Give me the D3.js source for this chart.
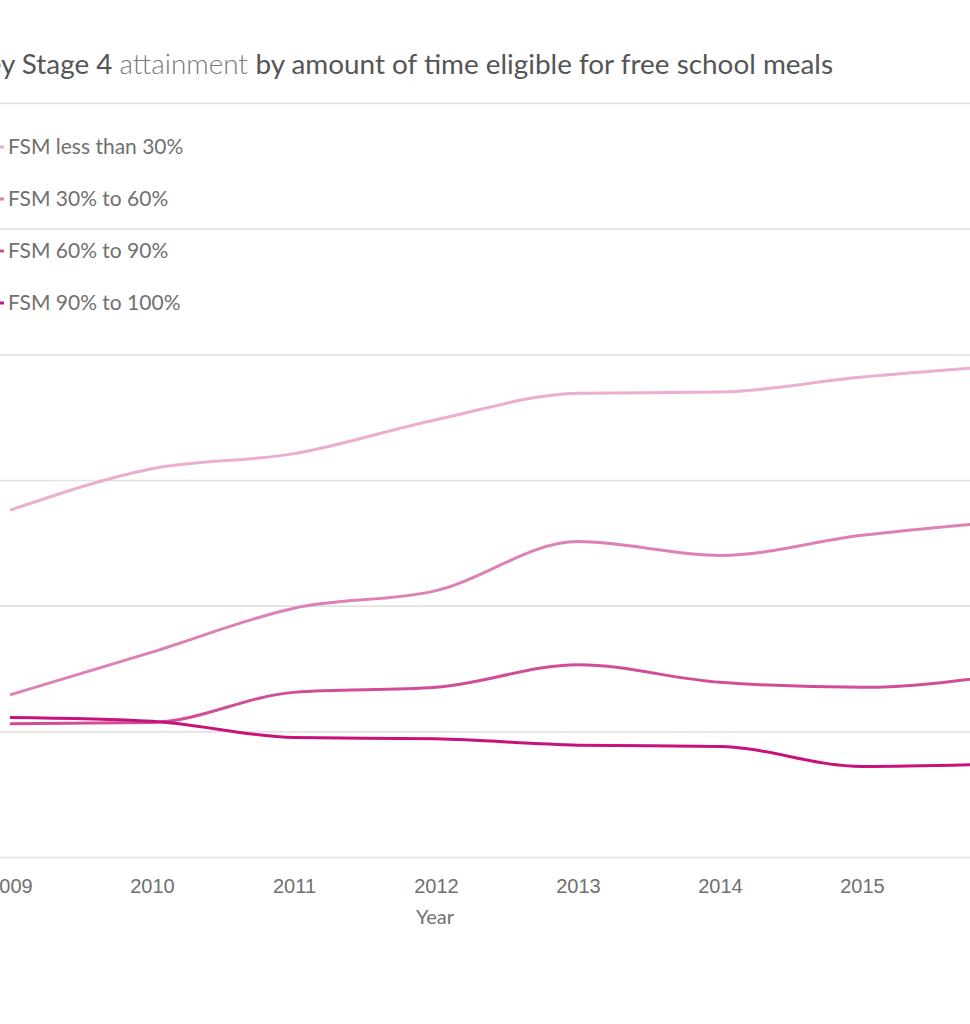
<!DOCTYPE html>
<html>
<head>
<meta charset="utf-8">
<script src="https://cdn.jsdelivr.net/npm/d3@7"></script>
<style>
  body { margin: 0; background: #fff; }
  svg { display: block; font-family: Lato, "Open Sans", sans-serif; }
</style>
</head>
<body>
<svg id="chart" width="970" height="1024"></svg>
<script>
// values (y gridlines every 10)
const years = [2009, 2010, 2011, 2012, 2013, 2014, 2015, 2016];
const seriesNames = ["FSM less than 30%", "FSM 30% to 60%", "FSM 60% to 90%", "FSM 90% to 100%"];
const lessThan30 = [27.6, 30.9, 32.1, 34.8, 36.9, 37.0, 38.2, 39.1];
const from30to60 = [12.9, 16.3, 19.8, 21.2, 25.1, 24.0, 25.6, 26.7];
const from60to90 = [10.6, 10.7, 13.1, 13.5, 15.3, 13.9, 13.5, 14.5];
const from90to100 = [11.1, 10.8, 9.5, 9.4, 8.9, 8.8, 7.2, 7.4];
const gridValues = [0, 10, 20, 30, 40, 50, 60];
const colors = ["#ebaecd", "#de80b4", "#d24d97", "#c7127c"];

const allSeries = [lessThan30, from30to60, from60to90, from90to100];

const width = 970;
const svg = d3.select("#chart");

const x = d3.scaleLinear().domain([2009, 2016]).range([10, 1004]);
const y = d3.scaleLinear().domain([0, 60]).range([857, 103]);

// gridlines
const yAxis = svg.append("g")
  .call(d3.axisLeft(y).tickValues(gridValues).tickSize(-width).tickFormat(""));
yAxis.select(".domain").remove();
yAxis.selectAll(".tick line")
  .attr("stroke", "#e2e2e2")
  .attr("stroke-width", 1.6);

// x axis labels
const xAxis = svg.append("g")
  .attr("transform", "translate(0,857)")
  .call(d3.axisBottom(x).tickValues(years).tickFormat(d3.format("d")).tickSize(0).tickPadding(22));
xAxis.select(".domain").remove();
xAxis.selectAll("text")
  .attr("fill", "#707070")
  .style("font-size", "20px");

svg.append("text")
  .attr("x", 435)
  .attr("y", 924)
  .attr("text-anchor", "middle")
  .attr("fill", "#707070")
  .style("font-size", "20px")
  .text("Year");

// lines
const line = d3.line()
  .x((d, i) => x(years[i]))
  .y(d => y(d))
  .curve(d3.curveMonotoneX);

svg.append("g")
  .selectAll("path")
  .data(allSeries)
  .join("path")
  .attr("d", d => line(d))
  .attr("fill", "none")
  .attr("stroke", (d, i) => colors[i])
  .attr("stroke-width", 3);

// title: size it so the visible part runs from the left edge to x=833
const probe = svg.append("text")
  .style("font-size", "27px")
  .text("y Stage 4 attainment by amount of time eligible for free school meals");
const titleSize = 27 * 835 / probe.node().getComputedTextLength();
probe.remove();

const title = svg.append("text")
  .attr("x", 833)
  .attr("y", 74)
  .attr("text-anchor", "end")
  .attr("fill", "#555")
  .style("font-size", titleSize + "px");
title.append("tspan").text("Key Stage 4 ");
title.append("tspan").attr("fill", "#7a7a7a").attr("font-weight", 300).text("attainment ");
title.append("tspan").text("by amount of time eligible for free school meals");

// legend
const legend = svg.append("g")
  .selectAll("g")
  .data(seriesNames)
  .join("g")
  .attr("transform", (d, i) => `translate(0,${147 + i * 52})`);

legend.append("line")
  .attr("x1", -20)
  .attr("x2", 4)
  .attr("stroke", (d, i) => colors[i])
  .attr("stroke-width", 3);

legend.append("text")
  .attr("x", 8)
  .attr("y", 7)
  .attr("fill", "#707070")
  .style("font-size", "21px")
  .text(d => d);
</script>
</body>
</html>
